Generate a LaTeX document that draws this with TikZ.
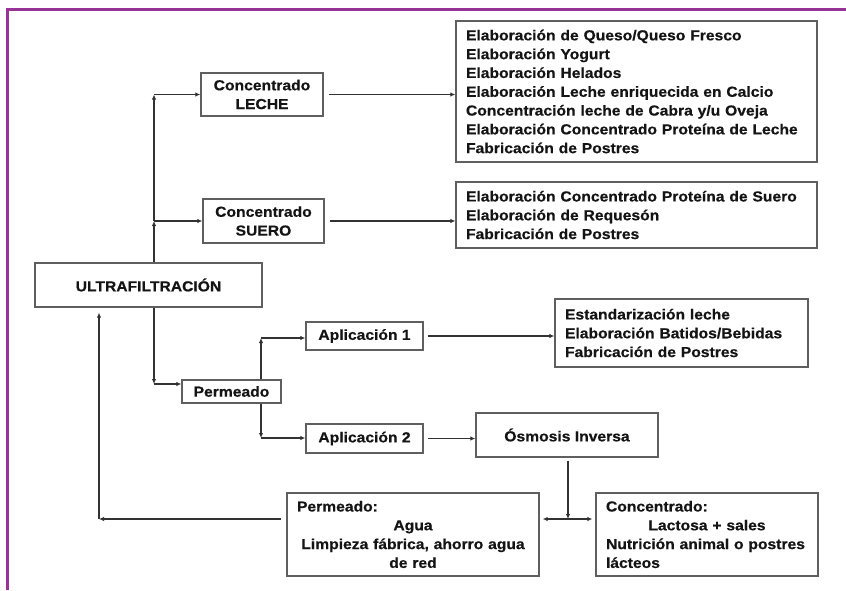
\documentclass[tikz,border=0pt]{standalone}
\usepackage{fontspec}
\setmainfont{Liberation Sans}[FakeStretch=1.08, BoldFeatures={FakeBold=0.5}]
\usetikzlibrary{arrows.meta}
\definecolor{purp}{RGB}{152,52,152}
\definecolor{txt}{RGB}{20,20,20}
\definecolor{bord}{RGB}{95,95,95}
\definecolor{lin}{RGB}{50,50,50}
\begin{document}
\begin{tikzpicture}[x=1pt,y=-1pt,
  font=\fontsize{14.5}{18.8}\selectfont\bfseries,
  box/.style={draw=bord, line width=1.3pt, fill=white, inner sep=0pt, text=txt},
  arr/.style={draw=lin, line width=1.2pt, -{Latex[length=5pt,width=4.5pt]}},
  arrtwo/.style={draw=lin, line width=1.2pt, {Latex[length=5pt,width=4.5pt]}-{Latex[length=5pt,width=4.5pt]}},
  plain/.style={draw=lin, line width=1.2pt}]
\useasboundingbox[fill=white] (0,0) rectangle (846,590);
% purple frame
\draw[purp, line width=3pt] (7,590) -- (7,9) -- (846,9);

% nodes
\node[box, minimum width=122pt, minimum height=43pt, align=center] (leche) at (262,94.5) {Concentrado\\LECHE};
\node[box, minimum width=121pt, minimum height=44pt, align=center] (suero) at (263.5,221) {Concentrado\\SUERO};
\node[box, minimum width=227pt, minimum height=44pt] (ultra) at (148.5,285) {ULTRAFILTRACIÓN};
\node[box, minimum width=361pt, minimum height=141pt, text width=341pt, align=left] (listA) at (636.5,91.5)
 {Elaboración de Queso/Queso Fresco\\Elaboración Yogurt\\Elaboración Helados\\Elaboración Leche enriquecida en Calcio\\Concentración leche de Cabra y/u Oveja\\Elaboración Concentrado Proteína de Leche\\Fabricación de Postres};
\node[box, minimum width=361pt, minimum height=66pt, text width=341pt, align=left] (listB) at (636.5,215)
 {Elaboración Concentrado Proteína de Suero\\Elaboración de Requesón\\Fabricación de Postres};
\node[box, minimum width=99pt, minimum height=23pt] (perm) at (231.5,391.5) {Permeado};
\node[box, minimum width=117pt, minimum height=28pt] (apA) at (364.5,336) {Aplicación 1};
\node[box, minimum width=117pt, minimum height=29pt] (apB) at (364.5,438.5) {Aplicación 2};
\node[box, minimum width=253pt, minimum height=68pt, text width=233pt, align=left] (std) at (681.5,333)
 {Estandarización leche\\Elaboración Batidos/Bebidas\\Fabricación de Postres};
\node[box, minimum width=182pt, minimum height=44pt] (osm) at (567,435) {Ósmosis Inversa};
\node[box, minimum width=252pt, minimum height=83pt, text width=232pt, align=center] (permw) at (413,534.5)
 {\makebox[232pt][l]{Permeado:}\\Agua\\Limpieza fábrica, ahorro agua\\de red};
\node[box, minimum width=222pt, minimum height=83pt, text width=202pt, align=left] (conc) at (707,534.5)
 {Concentrado:\\\makebox[202pt][c]{Lactosa + sales}\\Nutrición animal o postres\\lácteos};

% junctions
\coordinate (cA) at (154,94.5);
\coordinate (cB) at (154,221);
\coordinate (cC) at (154,384);
\coordinate (cD) at (261,338);
\coordinate (cE) at (261,438);
\coordinate (cF) at (568,519);
\coordinate (cG) at (99,519);

% connectors
\draw[arr] (ultra.north -| cB) -- (cB);
\draw[arr] (cB) -- (cA);
\draw[arr] (cA) -- (leche.west);
\draw[arr] (cB) -- (suero.west);
\draw[arr, shorten <=5pt] (leche.east) -- (leche.east -| listA.west);
\draw[arr, shorten <=5pt] (suero.east) -- (suero.east -| listB.west);
\draw[arr] (ultra.south -| cC) -- (cC);
\draw[arr] (cC) -- (cC -| perm.west);
\draw[arr] (perm.north -| cD) -- (cD);
\draw[arr] (cD) -- (cD -| apA.west);
\draw[arr] (perm.south -| cE) -- (cE);
\draw[arr] (cE) -- (cE -| apB.west);
\draw[arr, shorten <=4pt] (apA.east) -- (apA.east -| std.west);
\draw[arr, shorten <=4pt] (apB.east) -- (apB.east -| osm.west);
\draw[arr, shorten <=3pt] (osm.south -| cF) -- (cF);
\draw[arrtwo, shorten <=3pt, shorten >=3pt] (cF -| permw.east) -- (cF -| conc.west);
\draw[arr, shorten <=5pt] (cG -| permw.west) -- (cG);
\draw[arr, shorten >=5pt] (cG) -- (ultra.south -| cG);
\end{tikzpicture}
\end{document}
